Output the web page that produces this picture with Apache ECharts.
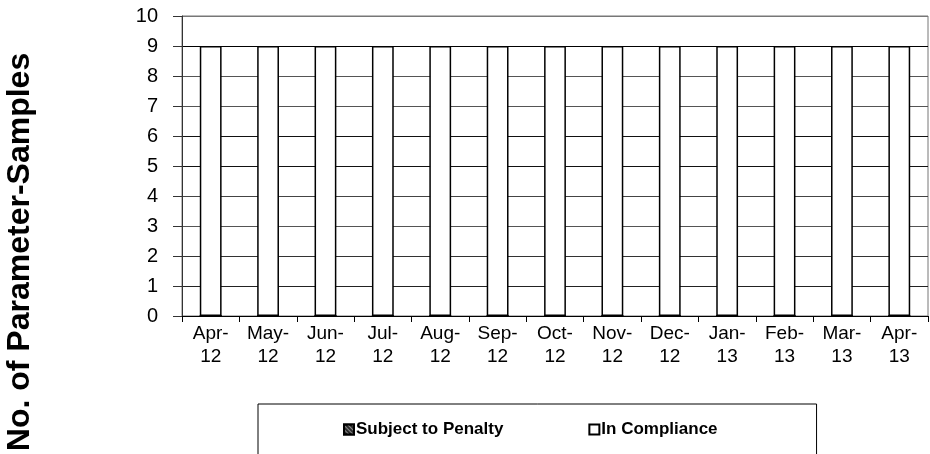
<!DOCTYPE html>
<html>
<head>
<meta charset="utf-8">
<script src="https://cdn.jsdelivr.net/npm/echarts@6/dist/echarts.min.js"></script>
<style>
  html, body { margin: 0; padding: 0; background: #fff; }
  #chart { width: 930px; height: 454px; }
</style>
</head>
<body>
<div id="chart"></div>
<script>
  // months, two-line labels as in the original sheet
  const months = [
    "Apr-\n12", "May-\n12", "Jun-\n12", "Jul-\n12", "Aug-\n12", "Sep-\n12", "Oct-\n12",
    "Nov-\n12", "Dec-\n12", "Jan-\n13", "Feb-\n13", "Mar-\n13", "Apr-\n13"
  ];
  const subjectToPenalty = [0, 0, 0, 0, 0, 0, 0, 0, 0, 0, 0, 0, 0];
  const inCompliance = [9, 9, 9, 9, 9, 9, 9, 9, 9, 9, 9, 9, 9];
  const yTicks = { min: 0, max: 10, step: 1 };

  const font = "Liberation Sans";
  const chart = echarts.init(document.getElementById("chart"));

  const option = {
    animation: false,
    backgroundColor: "#fff",
    textStyle: { fontFamily: font },
    grid: {
      left: 182,
      right: 2,
      top: 16,
      bottom: 138,
      show: true,
      borderColor: "#777",
      borderWidth: 1
    },
    legend: {
      left: 258,
      top: 404,
      padding: [17, 99, 40, 85],
      itemGap: 85,
      itemWidth: 10,
      itemHeight: 10,
      icon: "rect",
      borderColor: "#000",
      borderWidth: 1,
      textStyle: { fontFamily: font, fontWeight: "bold", fontSize: 17, color: "#000", padding: [0, 0, 0, -3] },
      data: ["Subject to Penalty", "In Compliance"]
    },
    xAxis: {
      type: "category",
      data: months,
      axisLine: { lineStyle: { color: "#000", width: 1 } },
      axisTick: { show: true, length: 6, lineStyle: { color: "#000" } },
      axisLabel: { color: "#000", fontSize: 19, lineHeight: 23, margin: 6, interval: 0 },
      splitLine: { show: false }
    },
    yAxis: {
      type: "value",
      min: yTicks.min,
      max: yTicks.max,
      interval: yTicks.step,
      axisLine: { show: true, lineStyle: { color: "#333", width: 1 } },
      axisTick: { show: true, length: 9, lineStyle: { color: "#333" } },
      axisLabel: { color: "#000", fontSize: 20, margin: 24 },
      splitLine: {
        show: true,
        lineStyle: {
          color: ["#000", "#222", "#333", "#555", "#444", "#111", "#111", "#555", "#555", "#000", "#777"],
          width: 1
        }
      }
    },
    series: [
      {
        name: "Subject to Penalty",
        type: "bar",
        stack: "total",
        barWidth: "38%",
        data: subjectToPenalty,
        itemStyle: {
          color: "#2a2a2a",
          borderColor: "#000",
          borderWidth: 1,
          decal: {
            symbol: "rect",
            color: "rgba(255,255,255,0.45)",
            dashArrayX: [1, 0],
            dashArrayY: [1, 2],
            rotation: Math.PI / 4,
            symbolSize: 1
          }
        }
      },
      {
        name: "In Compliance",
        type: "bar",
        stack: "total",
        barWidth: "38%",
        data: inCompliance,
        itemStyle: { color: "#fff", borderColor: "#000", borderWidth: 1.5 }
      }
    ],
    graphic: [
      {
        type: "text",
        x: 20,
        y: 252,
        rotation: Math.PI / 2,
        style: {
          text: "No. of Parameter-Samples",
          font: "bold 32px " + font,
          fill: "#000",
          align: "center",
          verticalAlign: "middle"
        }
      }
    ]
  };

  chart.setOption(option);
</script>
</body>
</html>
